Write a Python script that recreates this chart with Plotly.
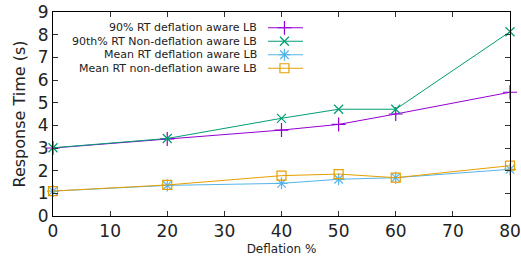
import plotly.graph_objects as go

deflation = [0, 20, 40, 50, 60, 80]
rt90_aware = [3.0, 3.4, 3.79, 4.04, 4.5, 5.46]
rt90_nonaware = [3.01, 3.42, 4.31, 4.71, 4.71, 8.13]
mean_aware = [1.1, 1.35, 1.44, 1.62, 1.69, 2.06]
mean_nonaware = [1.1, 1.37, 1.78, 1.85, 1.69, 2.22]

names = ["90% RT deflation aware LB", "90th% RT Non-deflation aware LB",
         "Mean RT deflation aware LB", "Mean RT non-deflation aware LB"]
colors = ["#9400D3", "#009E73", "#56B4E9", "#E69F00"]
symbols = ["cross-thin-open", "x-thin-open", "asterisk-open", "square-open"]
sizes = [10, 9, 10, 9]
series = [rt90_aware, rt90_nonaware, mean_aware, mean_nonaware]

x_ticks = [0, 10, 20, 30, 40, 50, 60, 70, 80]
y_ticks = list(range(0, 10))

fig = go.Figure()
for name, ys, c, s, sz in zip(names, series, colors, symbols, sizes):
    fig.add_trace(go.Scatter(
        x=deflation, y=ys, mode="lines+markers", name=name,
        line=dict(color=c, width=1),
        marker=dict(symbol=s, size=sz, color=c, line=dict(color=c, width=1.2)),
        showlegend=False, cliponaxis=False))

# custom gnuplot-style key: text right-aligned, sample to the right
legend_rows = [0, 1, 2, 3]
for i, (name, c, s, sz) in enumerate(zip(names, colors, symbols, sizes)):
    fig.add_trace(go.Scatter(
        x=[0, 1], y=[legend_rows[i], legend_rows[i]], mode="lines",
        line=dict(color=c, width=1.2), xaxis="x2", yaxis="y2",
        showlegend=False, hoverinfo="skip"))
    fig.add_trace(go.Scatter(
        x=[0.47], y=[legend_rows[i]], mode="markers",
        marker=dict(symbol=s, size=sz, color=c, line=dict(color=c, width=1.2)),
        xaxis="x2", yaxis="y2", showlegend=False, hoverinfo="skip"))
    fig.add_annotation(
        xref="paper", yref="y2", x=(259 - 53) / 457, y=legend_rows[i],
        text=name, showarrow=False, xanchor="right", yanchor="middle",
        font=dict(family="DejaVu Sans", size=11, color="#222"))

axis_common = dict(showline=True, linecolor="black", linewidth=1, mirror="allticks",
                   ticks="inside", ticklen=5, tickcolor="#333", showgrid=False,
                   zeroline=False, automargin=False)

fig.update_layout(
    width=521, height=262,
    margin=dict(l=53, r=11, t=12, b=46),
    plot_bgcolor="white", paper_bgcolor="white",
    font=dict(family="DejaVu Sans", color="#222"),
    xaxis=dict(range=[0, 80], tickvals=x_ticks, tickfont=dict(size=17),
               title=dict(text="Deflation %", font=dict(size=12), standoff=4),
               **axis_common),
    yaxis=dict(range=[0, 9], tickvals=y_ticks, tickfont=dict(size=17),
               title=dict(text="Response Time (s)", font=dict(size=16), standoff=8),
               **axis_common),
    xaxis2=dict(domain=[(268 - 53) / 457, (303 - 53) / 457], range=[0, 1],
                visible=False, anchor="y2", fixedrange=True),
    yaxis2=dict(domain=[(216 - 75) / 204, (216 - 21) / 204], range=[3.5, -0.5],
                visible=False, anchor="x2", fixedrange=True),
    showlegend=False,
)

fig.write_html("out.html", config={"displayModeBar": False},
               post_script="document.body.style.margin='0';document.body.style.overflow='hidden';")
